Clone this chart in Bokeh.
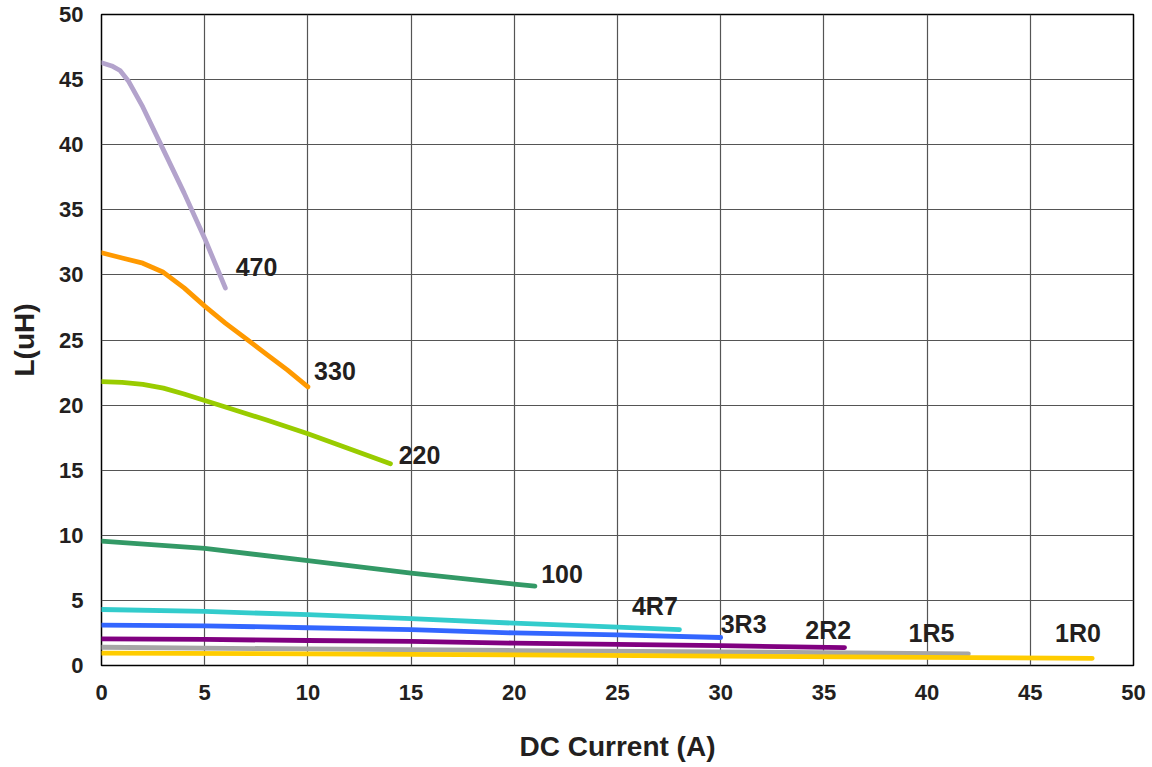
from bokeh.plotting import figure
from bokeh.models import ColumnDataSource, FixedTicker
from bokeh.embed import file_html
from bokeh.resources import INLINE
from bokeh.core.properties import value

# ---- data ----
x_470 = [0, 0.5, 0.9, 1.3, 2.0, 3.0, 4.0, 5.0, 6.0]
y_470 = [46.3, 46.05, 45.7, 44.9, 42.9, 39.6, 36.3, 32.8, 29.0]

x_330 = [0, 1, 2, 3, 4, 5, 6, 7, 8, 9, 10]
y_330 = [31.7, 31.3, 30.9, 30.2, 29.0, 27.6, 26.3, 25.1, 23.9, 22.7, 21.4]

x_220 = [0, 1, 2, 3, 4, 5, 6, 8, 10, 12, 14]
y_220 = [21.8, 21.75, 21.6, 21.3, 20.85, 20.35, 19.85, 18.85, 17.8, 16.65, 15.5]

x_100 = [0, 5, 10, 15, 20, 21]
y_100 = [9.55, 9.0, 8.05, 7.1, 6.25, 6.1]

x_4r7 = [0, 5, 10, 15, 20, 25, 28]
y_4r7 = [4.3, 4.15, 3.9, 3.6, 3.25, 2.95, 2.75]

x_3r3 = [0, 5, 10, 15, 20, 25, 30]
y_3r3 = [3.1, 3.05, 2.9, 2.75, 2.5, 2.35, 2.15]

x_2r2 = [0, 5, 10, 15, 20, 25, 30, 36]
y_2r2 = [2.05, 2.0, 1.92, 1.85, 1.72, 1.62, 1.52, 1.38]

x_1r5 = [0, 10, 20, 30, 42]
y_1r5 = [1.4, 1.27, 1.15, 1.05, 0.9]

x_1r0 = [0, 10, 20, 30, 40, 48]
y_1r0 = [0.95, 0.9, 0.82, 0.72, 0.62, 0.55]

series_names = ["470", "330", "220", "100", "4R7", "3R3", "2R2", "1R5", "1R0"]
series_x = [x_470, x_330, x_220, x_100, x_4r7, x_3r3, x_2r2, x_1r5, x_1r0]
series_y = [y_470, y_330, y_220, y_100, y_4r7, y_3r3, y_2r2, y_1r5, y_1r0]
series_colors = ["#B3A3CC", "#FF9900", "#99CC00", "#339966", "#33CCCC",
                 "#3366FF", "#800080", "#A6A6A6", "#FFCC00"]

label_x = [6.5, 10.3, 14.4, 21.3, 25.7, 30.0, 34.1, 39.1, 46.2]
label_y = [30.6, 22.6, 16.2, 7.0, 4.6, 3.2, 2.7, 2.5, 2.5]

x_ticks = [0, 5, 10, 15, 20, 25, 30, 35, 40, 45, 50]
y_ticks = [0, 5, 10, 15, 20, 25, 30, 35, 40, 45, 50]

FONT = "Liberation Sans"

p = figure(width=1152, height=767, output_backend="svg", toolbar_location=None,
           x_range=(0, 50), y_range=(0, 50),
           min_border_left=101, min_border_right=19, min_border_top=14, min_border_bottom=102)

p.background_fill_color = "white"
p.border_fill_color = "white"
p.outline_line_color = "black"
p.outline_line_width = 1.5

for g in (p.xgrid[0], p.ygrid[0]):
    g.grid_line_color = "#555555"
    g.grid_line_width = 1.2

p.xaxis.ticker = FixedTicker(ticks=x_ticks)
p.yaxis.ticker = FixedTicker(ticks=y_ticks)

for ax in (p.xaxis[0], p.yaxis[0]):
    ax.axis_line_color = None
    ax.major_tick_out = 0
    ax.major_tick_in = 0
    ax.minor_tick_line_color = None
    ax.major_label_text_font = FONT
    ax.major_label_text_font_style = "bold"
    ax.major_label_text_font_size = "22px"
    ax.major_label_text_color = "#231F20"
    ax.axis_label_text_font = FONT
    ax.axis_label_text_font_style = "bold"
    ax.axis_label_text_font_size = "28px"
    ax.axis_label_text_color = "#231F20"

p.xaxis.axis_label = "DC Current (A)"
p.yaxis.axis_label = "L(uH)"
p.xaxis.major_label_standoff = 19
p.yaxis.major_label_standoff = 18
p.xaxis.axis_label_standoff = 28
p.yaxis.axis_label_standoff = 16

for name, xs, ys, c in zip(series_names, series_x, series_y, series_colors):
    src = ColumnDataSource(data=dict(x=xs, y=ys))
    p.line("x", "y", source=src, line_color=c, line_width=4.8,
           line_cap="round", line_join="round")

lab_src = ColumnDataSource(data=dict(x=label_x, y=label_y, t=series_names))
p.text("x", "y", text="t", source=lab_src, text_font=value(FONT),
       text_font_style="bold", text_font_size="25px", text_color="#231F20",
       text_align="left", text_baseline="middle")

open("out.html", "w").write(file_html(p, INLINE))
